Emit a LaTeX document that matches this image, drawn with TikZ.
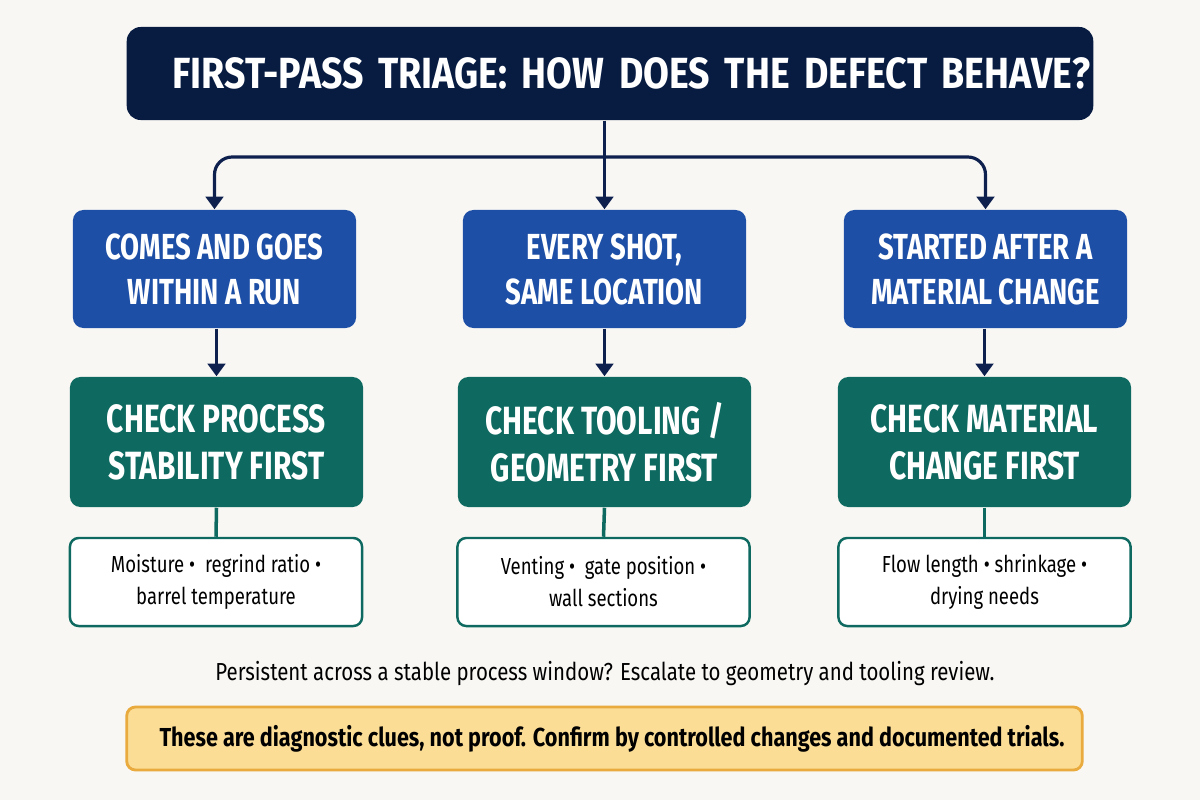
\documentclass[tikz,border=0pt]{standalone}
\usepackage{fontspec}
\setmainfont{Fira Sans}[FakeStretch=0.8]
\newfontfamily\headfont{Fira Sans}[FakeStretch=0.76]
\newfontfamily\titlefont{Fira Sans}[FakeStretch=0.86]
\newfontfamily\notefont{Fira Sans}[FakeStretch=0.83]
\usetikzlibrary{arrows.meta, positioning}
\definecolor{paper}{RGB}{248,247,244}
\definecolor{navy}{RGB}{8,28,66}
\definecolor{linkblue}{RGB}{14,32,78}
\definecolor{caseblue}{RGB}{30,79,166}
\definecolor{checkteal}{RGB}{14,106,96}
\definecolor{notefill}{RGB}{251,221,150}
\definecolor{noteedge}{RGB}{233,170,62}

\tikzset{
  titlebox/.style={fill=navy, rounded corners=4pt, text=white,
    text width=9.6cm, inner xsep=0.03cm, align=right, minimum height=0.93cm,
    font=\titlefont\fontsize{12.4}{14}\selectfont\bfseries},
  casebox/.style={fill=caseblue, rounded corners=3pt, text=white, align=center,
    minimum width=2.83cm, minimum height=1.18cm,
    font=\headfont\fontsize{10.3}{12.8}\selectfont\bfseries},
  checkbox/.style={fill=checkteal, rounded corners=3pt, text=white, align=center,
    minimum width=2.93cm, minimum height=1.30cm,
    font=\headfont\fontsize{11.2}{13.4}\selectfont\bfseries},
  cluebox/.style={draw=checkteal, line width=0.7pt, fill=white, rounded corners=2.5pt,
    align=center, minimum width=2.92cm, minimum height=0.88cm,
    font=\fontsize{6.6}{9.1}\selectfont},
  notebox/.style={draw=noteedge, line width=0.8pt, fill=notefill, rounded corners=2.5pt,
    minimum width=9.55cm, minimum height=0.63cm,
    font=\notefont\fontsize{7.4}{9}\selectfont\bfseries},
  link/.style={draw=linkblue, line width=0.9pt, -{Triangle[length=3.6pt, width=5pt]}},
  tie/.style={draw=checkteal, line width=1pt}
}

\begin{document}
\begin{tikzpicture}[x=0.01cm, y=-0.01cm]
  \useasboundingbox[fill=paper] (0,0) rectangle (1200,800);

  \node[titlebox] (title) at (610,73.5) {FIRST-PASS TRIAGE: HOW DOES THE DEFECT BEHAVE?};

  % three cases
  \node[casebox] (case1) at (214.5,269) {COMES AND GOES\\WITHIN A RUN};
  \node[casebox] (case2) at (604.5,269) {EVERY SHOT,\\SAME LOCATION};
  \node[casebox] (case3) at (985.5,269) {STARTED AFTER A\\MATERIAL CHANGE};

  \node[checkbox] (check1) at (216.5,442) {CHECK PROCESS\\STABILITY FIRST};
  \node[checkbox] (check2) at (604.5,442) {CHECK TOOLING /\\GEOMETRY FIRST};
  \node[checkbox] (check3) at (984.5,442) {CHECK MATERIAL\\CHANGE FIRST};

  \node[cluebox] (clue1) at (216,582) {Moisture \textbullet{}\ \ regrind ratio \textbullet\\barrel temperature};
  \node[cluebox] (clue2) at (603.5,582) {Venting \textbullet{}\ \ gate position \textbullet\\wall sections};
  \node[cluebox] (clue3) at (984.5,582) {Flow length \textbullet{}\ shrinkage \textbullet\\drying needs};

  \node[font=\notefont\fontsize{7}{9}\selectfont] (escalate) at (605,674)
    {Persistent across a stable process window? Escalate to geometry and tooling review.};
  \node[notebox] (note) at (604.5,738.5)
    {\hspace{0.15cm}These are diagnostic clues, not proof. Confirm by controlled changes and documented trials.};

  % connectors
  \coordinate (bus) at (case2.north |- 0,157);
  \draw[link] (case2.north |- title.south) -- (case2.north);
  \draw[link, rounded corners=5pt] (bus) -| (case1.north);
  \draw[link, rounded corners=5pt] (bus) -| (case3.north);
  \foreach \i in {1,2,3} {
    \draw[link] (case\i.south -| check\i.north) -- (check\i.north);
    \draw[tie] (check\i.south) -- (clue\i.north);
  }
\end{tikzpicture}
\end{document}
